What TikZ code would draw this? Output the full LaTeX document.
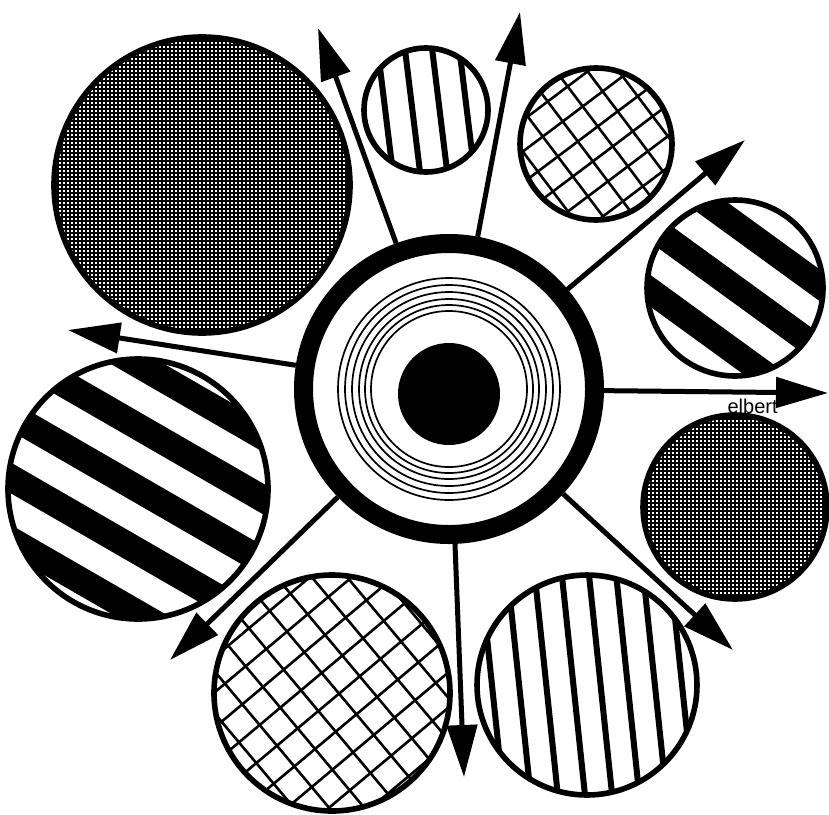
\documentclass[tikz,border=0pt]{standalone}
\usepackage{fontspec}
\setmainfont{Liberation Sans}
\usetikzlibrary{arrows.meta,positioning}
\tikzset{
  disc/.style={line width=2.8pt},
  spoke/.style={-{Triangle[length=26pt,width=15pt]},line width=2.5pt},
  bar/.style={line width=3pt},
  hatch/.style={line width=1.3pt},
  mesh/.style={line width=0.8pt},
}

\begin{document}
\begin{tikzpicture}[x=0.5pt,y=-0.5pt]
\useasboundingbox (0,0) rectangle (829,814);
\begin{scope}
\clip (202,185) circle (148);
\foreach \k in {-38,...,38} {\draw[mesh] (202+4*\k,30) -- (202+4*\k,340); \draw[mesh] (50,185+4*\k) -- (360,185+4*\k);}
\end{scope}
\draw[disc] (202,185) circle (148);
\begin{scope}
\clip (735,507) circle (92);
\foreach \k in {-24,...,24} {\draw[mesh] (735+4*\k,410) -- (735+4*\k,605); \draw[mesh] (640,507+4*\k) -- (830,507+4*\k);}
\end{scope}
\draw[disc] (735,507) circle (92);
\begin{scope}
\clip (426,110) circle (62);
\foreach \k in {-3,...,2} \draw[bar,rotate around={7:(426,110)}] (426+27*\k+13.5,30) -- (426+27*\k+13.5,190);
\end{scope}
\draw[disc] (426,110) circle (62);
\begin{scope}
\clip (587,685) circle (110);
\foreach \k in {-5,...,4} \draw[bar,rotate around={6:(587,685)}] (587+27*\k+13.5,560) -- (587+27*\k+13.5,810);
\end{scope}
\draw[disc] (587,685) circle (110);
\begin{scope}
\clip (596,144) circle (76);
\foreach \k in {-4,...,4} {\draw[hatch,rotate around={37:(596,144)}] (596+25*\k+12,50) -- (596+25*\k+12,240); \draw[hatch,rotate around={37:(596,144)}] (500,144+25*\k+12) -- (690,144+25*\k+12);}
\end{scope}
\draw[disc] (596,144) circle (76);
\begin{scope}
\clip (332,693) circle (118);
\foreach \k in {-5,...,5} {\draw[hatch,rotate around={40:(332,693)}] (332+27*\k+5,560) -- (332+27*\k+5,830); \draw[hatch,rotate around={40:(332,693)}] (200,693+27*\k+5) -- (470,693+27*\k+5);}
\end{scope}
\draw[disc] (332,693) circle (118);
\begin{scope}
\clip (735,288) circle (88);
\fill (735,288) circle (88);
\foreach \k in {-3,...,2} \fill[white,rotate around={-36:(735,288)}] (600,288+52*\k+13) rectangle (870,288+52*\k+39);
\end{scope}
\draw[disc] (735,288) circle (88);
\begin{scope}
\clip (138,489) circle (130);
\fill (138,489) circle (130);
\foreach \k in {-3,...,2} \fill[white,rotate around={-30:(138,489)}] (-30,489+54*\k+13.5) rectangle (310,489+54*\k+40.5);
\end{scope}
\draw[disc] (138,489) circle (130);

\node[circle,draw,line width=9.5pt,minimum size=145.5pt,inner sep=0pt] (hub) at (449,389) {};
\foreach \r in {111,104,97,90,84,78} \draw[line width=0.85pt] (hub.center) circle (\r);
\fill (449,394) circle (51);

\coordinate (tipA) at (318,28);
\coordinate (tipB) at (520,12);
\coordinate (tipC) at (745,140);
\coordinate (tipD) at (828,393);
\coordinate (tipE) at (733,650);
\coordinate (tipF) at (464,777);
\coordinate (tipG) at (170,660);
\coordinate (tipH) at (68,330);
\foreach \t in {A,B,C,D,E,F,G,H} \draw[spoke] (hub) -- (tip\t);
\node[inner sep=0pt,font=\fontsize{10}{12}\selectfont,below left=3pt and 25pt of tipD] (lbl) {elbert};
\end{tikzpicture}
\end{document}
